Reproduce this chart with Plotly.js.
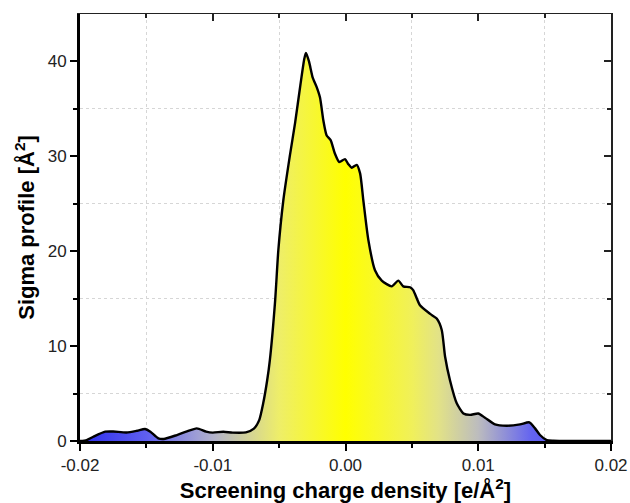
<!DOCTYPE html>
<html>
<head>
<meta charset="utf-8">
<script src="https://cdn.plot.ly/plotly-3.0.1.min.js"></script>
<style>html,body{margin:0;padding:0;background:#fff;}#chart{width:630px;height:503px;}</style>
</head>
<body>
<div id="chart"></div>
<script>
// Screening charge density [e/Å²]
const sigma = [-0.02, -0.0195, -0.019, -0.0181, -0.0175, -0.0165, -0.0157, -0.0151, -0.0147, -0.0141, -0.0137,
  -0.0127, -0.012, -0.0112, -0.0105, -0.01, -0.0092, -0.0085, -0.0075, -0.0069, -0.0065, -0.0062, -0.0059,
  -0.0057, -0.0053, -0.00506, -0.00468, -0.0042, -0.0038, -0.0034, -0.0031, -0.00298, -0.00275, -0.00247,
  -0.00217, -0.00192, -0.00167, -0.00142, -0.00112, -0.0008, -0.00047, -0.00004, 0.0002, 0.00047, 0.00084,
  0.0011, 0.00134, 0.00172, 0.00222, 0.00273, 0.00348, 0.00398, 0.00435, 0.00486, 0.0051, 0.00561, 0.00637,
  0.00687, 0.00725, 0.0075, 0.00787, 0.00838, 0.00888, 0.00938, 0.01, 0.01051, 0.01126, 0.01214, 0.01315,
  0.01385, 0.01428, 0.01465, 0.01516, 0.01565, 0.017, 0.02];
// Sigma profile [Å²]
const profile = [0, 0.1, 0.45, 0.98, 1.0, 0.9, 1.08, 1.26, 0.98, 0.28, 0.21,
  0.63, 0.98, 1.33, 0.98, 0.88, 0.98, 0.88, 0.91, 1.3, 2.2, 3.97, 6.4,
  8.5, 14.8, 20.1, 25.4, 30.0, 33.5, 37.5, 40.3, 40.9, 40.0, 38.3,
  37.3, 36.2, 33.8, 32.2, 31.7, 30.3, 29.4, 29.7, 29.2, 28.8, 29.1,
  28.2, 25.4, 21.2, 18.0, 16.9, 16.3, 16.9, 16.3, 16.2, 15.9, 14.3, 13.4,
  12.9, 11.7, 8.9, 6.4, 3.97, 2.9, 2.75, 2.9, 2.45, 1.75, 1.61, 1.75,
  1.97, 1.33, 0.63, 0.1, 0.03, 0, 0];
const xTicks = [-0.02, -0.01, 0.00, 0.01, 0.02];
const xTickText = ['-0.02', '-0.01', '0.00', '0.01', '0.02'];
const yTicks = [0, 10, 20, 30, 40];
const xGrid = [-0.015, -0.005, 0.005, 0.015];
const yGrid = [5, 15, 25, 35];

const fnt = 'Arial, "Liberation Sans", sans-serif';

const trace = {
  x: sigma, y: profile, type: 'scatter', mode: 'lines',
  line: {color: '#000', width: 2.4, shape: 'spline', smoothing: 0.6},
  fill: 'tozeroy',
  fillgradient: {
    type: 'horizontal', start: -0.02, stop: 0.02,
    colorscale: [
      [0, 'rgb(45,45,235)'],
      [0.125, 'rgb(95,95,240)'],
      [0.25, 'rgb(178,178,205)'],
      [0.375, 'rgb(238,238,105)'],
      [0.5, 'rgb(255,255,0)'],
      [0.625, 'rgb(240,240,90)'],
      [0.675, 'rgb(226,226,135)'],
      [0.75, 'rgb(188,188,190)'],
      [0.85, 'rgb(100,100,240)'],
      [1, 'rgb(60,60,250)']
    ]
  },
  hoverinfo: 'skip', showlegend: false
};

const titleFont = {size: 22, family: fnt, color: '#000', weight: 'bold'};
const tickFont = {size: 17, color: '#222', family: fnt};

const layout = {
  width: 630, height: 503,
  margin: {l: 80, r: 19, t: 14, b: 62},
  paper_bgcolor: '#fff', plot_bgcolor: '#fff',
  font: {family: fnt, color: '#222', size: 17},
  showlegend: false,
  xaxis: {
    range: [-0.02, 0.02], tickvals: xTicks, ticktext: xTickText,
    ticks: 'outside', ticklen: 7, tickwidth: 2, tickcolor: '#000',
    showline: true, linewidth: 3, linecolor: '#000',
    showgrid: false, zeroline: false, tickfont: tickFont,
    minor: {tickvals: xGrid, ticks: 'outside', ticklen: 4, tickwidth: 2, tickcolor: '#000', showgrid: false},
    title: {text: 'Screening charge density [e/Å<sup>2</sup>]', font: titleFont, standoff: 6}
  },
  yaxis: {
    range: [0, 45], tickvals: yTicks,
    ticks: 'outside', ticklen: 7, tickwidth: 2, tickcolor: '#000',
    showline: true, linewidth: 3, linecolor: '#000',
    showgrid: false, zeroline: false, tickfont: tickFont,
    minor: {tickvals: yGrid, ticks: 'outside', ticklen: 4, tickwidth: 2, tickcolor: '#000', showgrid: false},
    title: {text: 'Sigma profile [Å<sup>2</sup>]', font: titleFont, standoff: 7}
  },
  xaxis2: {
    overlaying: 'x', side: 'top', anchor: 'y', range: [-0.02, 0.02], tickvals: xTicks,
    showticklabels: false, ticks: 'inside', ticklen: 7, tickwidth: 2, tickcolor: '#222',
    showline: true, linewidth: 1.5, linecolor: '#222', showgrid: false, zeroline: false,
    minor: {tickvals: xGrid, ticks: 'inside', ticklen: 4, tickwidth: 2, tickcolor: '#222', showgrid: false}
  },
  yaxis2: {
    overlaying: 'y', side: 'right', anchor: 'x', range: [0, 45], tickvals: yTicks,
    showticklabels: false, ticks: 'inside', ticklen: 7, tickwidth: 2, tickcolor: '#222',
    showline: true, linewidth: 1.5, linecolor: '#222', showgrid: false, zeroline: false,
    minor: {tickvals: yGrid, ticks: 'inside', ticklen: 4, tickwidth: 2, tickcolor: '#222', showgrid: false}
  },
  xaxis3: {
    overlaying: 'x', anchor: 'y', range: [-0.02, 0.02], tickvals: xGrid,
    showticklabels: false, ticks: '', showline: false, zeroline: false,
    showgrid: true, gridcolor: '#d6d6d6', griddash: 'dot', gridwidth: 1
  },
  yaxis3: {
    overlaying: 'y', anchor: 'x', range: [0, 45], tickvals: yGrid,
    showticklabels: false, ticks: '', showline: false, zeroline: false,
    showgrid: true, gridcolor: '#d6d6d6', griddash: 'dot', gridwidth: 1
  }
};

const dummy2 = {x: [null], y: [null], xaxis: 'x2', yaxis: 'y2', type: 'scatter', mode: 'lines', showlegend: false, hoverinfo: 'skip'};
const dummy3 = {x: [null], y: [null], xaxis: 'x3', yaxis: 'y3', type: 'scatter', mode: 'lines', showlegend: false, hoverinfo: 'skip'};

Plotly.newPlot('chart', [dummy3, trace, dummy2], layout, {displayModeBar: false, staticPlot: true});
</script>
</body>
</html>
